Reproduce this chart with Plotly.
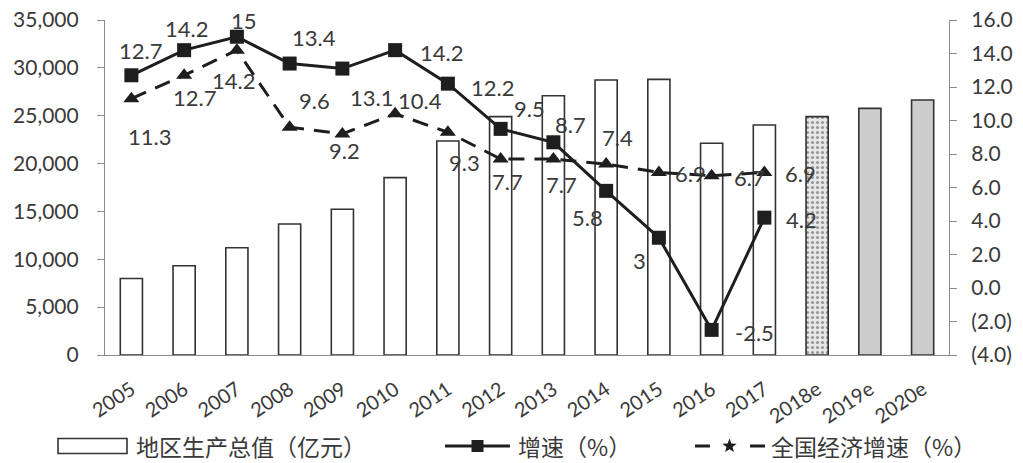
import math
import plotly.graph_objects as go

categories = ["2005", "2006", "2007", "2008", "2009", "2010", "2011", "2012",
              "2013", "2014", "2015", "2016", "2017", "2018e", "2019e", "2020e"]
gdp = [8000, 9330, 11210, 13690, 15220, 18530, 22360, 24900,
       27090, 28730, 28800, 22120, 24030, 24900, 25770, 26640]
growth = [12.7, 14.2, 15, 13.4, 13.1, 14.2, 12.2, 9.5, 8.7, 5.8, 3, -2.5, 4.2]
national = [11.3, 12.7, 14.2, 9.6, 9.2, 10.4, 9.3, 7.7, 7.7, 7.4, 6.9, 6.7, 6.9]
growth_labels = ["12.7", "14.2", "15", "13.4", "13.1", "14.2", "12.2", "9.5", "8.7", "5.8", "3", "-2.5", "4.2"]
national_labels = ["11.3", "12.7", "14.2", "9.6", "9.2", "10.4", "9.3", "7.7", "7.7", "7.4", "6.9", "6.7", "6.9"]
left_tickvals = [0, 5000, 10000, 15000, 20000, 25000, 30000, 35000]
right_tickvals = [-4, -2, 0, 2, 4, 6, 8, 10, 12, 14, 16]
right_ticktext = ["(4.0)", "(2.0)", "0.0", "2.0", "4.0", "6.0", "8.0", "10.0", "12.0", "14.0", "16.0"]
legend_names = ["地区生产总值（亿元）", "增速（%）", "全国经济增速（%）"]

# category positions on the x axis (index of each category)
pos = list(range(len(categories)))
line_pos = pos[:len(growth)]

# label offsets (pixels) - styling only
growth_shift = [(9, -25), (2, -22), (7, -16), (24, -26), (29, 29), (46, 2), (45, 4),
                (29, -20), (17, -18), (-19, 27), (-19, 23), (43, 3), (37, 2)]
national_shift = [(18, 38), (10, 22), (-3, 30), (25, -27), (2, 17), (25, -13), (17, 30),
                  (7, 22), (8, 25), (11, -27), (32, 1), (38, 2), (36, 1)]

TXT = "#3a3a3a"
INK = "#1e1e1e"
FONT = "Lato, 'Open Sans', sans-serif"
CJK = "'Noto Sans CJK SC', sans-serif"

bar_colors = ["#ffffff"] * 13 + ["#e8e8e8", "#cdcdcd", "#cdcdcd"]
bar_shapes = [""] * 13 + [".", "", ""]

fig = go.Figure()
fig.add_trace(go.Bar(
    x=pos, y=gdp, name=legend_names[0], width=0.42,
    marker=dict(color=bar_colors, line=dict(color="#333333", width=1.6),
                pattern=dict(shape=bar_shapes, fgcolor="#a0a0a0", size=5, solidity=0.3)),
    yaxis="y", showlegend=False,
))
fig.add_trace(go.Scatter(
    x=line_pos, y=growth, name=legend_names[1], mode="lines+markers",
    line=dict(color=INK, width=3),
    marker=dict(symbol="square", size=14, color=INK),
    yaxis="y2", showlegend=False,
))
fig.add_trace(go.Scatter(
    x=line_pos, y=national, name=legend_names[2], mode="lines+markers",
    line=dict(color=INK, width=3, dash="16px,10px"),
    marker=dict(symbol="triangle-up", size=14, color=INK),
    yaxis="y2", showlegend=False,
))

annotations = []
for x, y, t, (dx, dy) in zip(line_pos, growth, growth_labels, growth_shift):
    annotations.append(dict(x=x, y=y, xref="x", yref="y2", text=t, showarrow=False,
                            xshift=dx, yshift=-dy, font=dict(size=22, color=TXT, family=FONT)))
for x, y, t, (dx, dy) in zip(line_pos, national, national_labels, national_shift):
    annotations.append(dict(x=x, y=y, xref="x", yref="y2", text=t, showarrow=False,
                            xshift=dx, yshift=-dy, font=dict(size=22, color=TXT, family=FONT)))

# ---- manual legend (paper coordinates; plot area on screen is x 105..949 px, y 20..355 px)
def px_x(p):
    return (p - 105) / 844.0

def px_y(p):
    return (355 - p) / 335.0

LEG_Y = px_y(446)
shapes = []
shapes.append(dict(type="rect", xref="paper", yref="paper",
                   x0=px_x(58), x1=px_x(127), y0=px_y(453.5), y1=px_y(438.5),
                   line=dict(color="#333333", width=1.6), fillcolor="white"))
shapes.append(dict(type="line", xref="paper", yref="paper",
                   x0=px_x(445), x1=px_x(510), y0=LEG_Y, y1=LEG_Y,
                   line=dict(color=INK, width=3)))
shapes.append(dict(type="rect", xref="paper", yref="paper",
                   xsizemode="pixel", ysizemode="pixel",
                   xanchor=px_x(477.5), yanchor=LEG_Y, x0=-6, x1=6, y0=-6, y1=6,
                   line=dict(width=0), fillcolor=INK))
shapes.append(dict(type="line", xref="paper", yref="paper",
                   x0=px_x(695), x1=px_x(765), y0=LEG_Y, y1=LEG_Y,
                   line=dict(color=INK, width=3, dash="15px,40px")))
star_pts = []
for k in range(10):
    r = 7.5 if k % 2 == 0 else 3.2
    a = math.pi / 2 + k * math.pi / 5
    star_pts.append((r * math.cos(a), r * math.sin(a)))
star_path = "M" + " L".join(f"{sx:.2f},{sy:.2f}" for sx, sy in star_pts) + " Z"
shapes.append(dict(type="path", xref="paper", yref="paper",
                   xsizemode="pixel", ysizemode="pixel",
                   xanchor=px_x(729.5), yanchor=LEG_Y, path=star_path,
                   line=dict(width=0), fillcolor=INK))

for name, xp in zip(legend_names, [135, 517, 770]):
    annotations.append(dict(x=px_x(xp), y=LEG_Y, xref="paper", yref="paper",
                            xanchor="left", yanchor="middle", text=name, showarrow=False,
                            borderpad=0, font=dict(size=23, color=TXT, family=CJK)))

# the page places the figure 8 px from the window's top-left corner
fig.update_layout(
    width=1015, height=455,
    margin=dict(l=97, r=74, t=12, b=108),
    paper_bgcolor="white", plot_bgcolor="white",
    font=dict(family=FONT, size=21, color=TXT),
    showlegend=False,
    xaxis=dict(
        range=[-0.5, len(categories) - 0.5],
        tickvals=pos, ticktext=categories, automargin=False,
        showline=True, linecolor="#8c8c8c", linewidth=1.2,
        ticks="outside", ticklen=14, tickcolor="rgba(0,0,0,0)", tickangle=-34,
        tickfont=dict(size=20, color=TXT, family=FONT),
        showgrid=False, zeroline=False,
    ),
    yaxis=dict(
        range=[0, 35000], tickvals=left_tickvals, automargin=False,
        tickformat=",d", showgrid=False, zeroline=False,
        showline=True, linecolor="#8c8c8c", linewidth=1.2,
        ticks="outside", ticklen=7, tickcolor="#8c8c8c", ticklabelstandoff=14,
        ticklabeloverflow="allow",
        tickfont=dict(size=21, color=TXT, family=FONT),
    ),
    yaxis2=dict(
        range=[-4, 16], overlaying="y", side="right", automargin=False,
        tickvals=right_tickvals, ticktext=right_ticktext,
        showgrid=False, zeroline=False,
        showline=True, linecolor="#8c8c8c", linewidth=1.2,
        ticks="outside", ticklen=7, tickcolor="#8c8c8c", ticklabelstandoff=10,
        ticklabeloverflow="allow",
        tickfont=dict(size=21, color=TXT, family=FONT),
    ),
    shapes=shapes,
    annotations=annotations,
)

fig.write_html("out.html")
